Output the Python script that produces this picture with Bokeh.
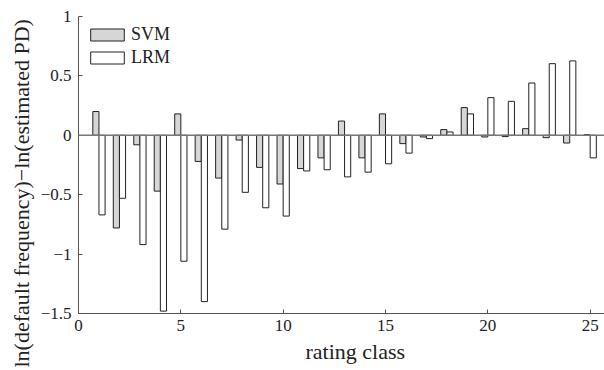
from bokeh.plotting import figure
from bokeh.models import ColumnDataSource, Range1d, Legend, LegendItem, Span, FixedTicker, Title
from bokeh.embed import file_html
from bokeh.resources import INLINE

classes = list(range(1, 26))
svm = [0.20, -0.78, -0.08, -0.47, 0.18, -0.22, -0.36, -0.04, -0.27, -0.41,
       -0.28, -0.19, 0.12, -0.19, 0.18, -0.07, -0.014, 0.048, 0.233, -0.014,
       -0.011, 0.056, -0.02, -0.065, 0.005]
lrm = [-0.67, -0.53, -0.92, -1.48, -1.06, -1.40, -0.79, -0.48, -0.61, -0.68,
       -0.30, -0.29, -0.35, -0.31, -0.24, -0.15, -0.028, 0.028, 0.18, 0.317,
       0.286, 0.44, 0.603, 0.626, -0.19]
x_ticks = [0, 5, 10, 15, 20, 25]
y_ticks = [-1.5, -1, -0.5, 0, 0.5, 1]
y_tick_labels = ["\u22121.5", "\u22121", "\u22120.5", "0", "0.5", "1"]
x_title = "rating class"
y_title = "ln(default frequency)\u2212ln(estimated PD)"

FONT = "Liberation Serif"
TXT = "#222222"

p = figure(width=604, height=370, output_backend="svg", toolbar_location=None,
           x_range=Range1d(0, 25.7), y_range=Range1d(-1.5, 1),
           min_border_left=78, min_border_right=0, min_border_top=16, min_border_bottom=57)
p.outline_line_color = None
p.grid.visible = False
p.background_fill_color = "white"

src = ColumnDataSource(dict(
    xs=[c - 0.15 for c in classes], xl=[c + 0.15 for c in classes],
    svm=svm, lrm=lrm))

zero = Span(location=0, dimension="width", line_color="#777777", line_width=1.5)
p.add_layout(zero)

r_svm = p.vbar(x="xs", top="svm", bottom=0, width=0.3, source=src,
               fill_color="#d6d6d6", line_color="#222222", line_width=1)
r_lrm = p.vbar(x="xl", top="lrm", bottom=0, width=0.3, source=src,
               fill_color="white", line_color="#222222", line_width=1)

for ax in (p.xaxis[0], p.yaxis[0]):
    ax.major_tick_in = 4
    ax.major_tick_out = 0
    ax.minor_tick_in = 0
    ax.minor_tick_out = 0
    ax.axis_line_color = "#555555"
    ax.major_tick_line_color = "#555555"
    ax.major_label_text_font = FONT
    ax.major_label_text_font_size = "17px"
    ax.major_label_text_color = TXT

p.xaxis.ticker = FixedTicker(ticks=x_ticks)
p.yaxis.ticker = FixedTicker(ticks=y_ticks)
p.yaxis.major_label_overrides = {t: l for t, l in zip(y_ticks, y_tick_labels)}
p.xaxis.major_label_standoff = 6
p.yaxis.major_label_standoff = 7

# axis titles as side-panel titles so they can be shifted along the axis
xt = Title(text=x_title, align="left", offset=227, standoff=7,
           text_font=FONT, text_font_size="22px", text_font_style="normal",
           text_color=TXT)
yt = Title(text=y_title, align="left", offset=-54, standoff=8,
           text_font=FONT, text_font_size="22px", text_font_style="normal",
           text_color=TXT)
p.add_layout(xt, "below")
p.add_layout(yt, "left")

legend = Legend(items=[LegendItem(label="SVM", renderers=[r_svm]),
                       LegendItem(label="LRM", renderers=[r_lrm])],
                location="top_left")
legend.border_line_color = None
legend.background_fill_alpha = 0
legend.margin = 8
legend.padding = 12
legend.glyph_width = 42
legend.glyph_height = 15
legend.label_height = 15
legend.spacing = 2
legend.label_standoff = 3
legend.label_text_font = FONT
legend.label_text_font_size = "18px"
legend.label_text_color = TXT
p.add_layout(legend)

open("out.html", "w").write(file_html(p, INLINE))
